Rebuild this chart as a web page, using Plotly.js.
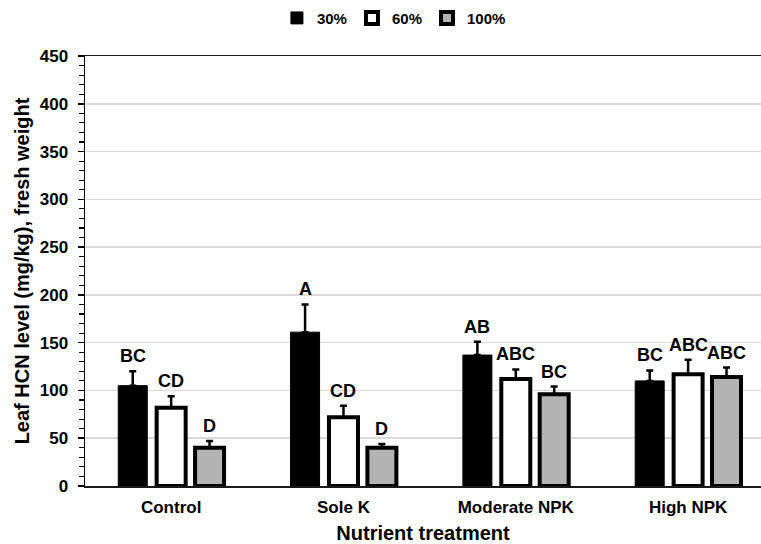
<!DOCTYPE html>
<html>
<head>
<meta charset="utf-8">
<script src="https://cdn.plot.ly/plotly-3.0.1.min.js"></script>
<style>
html,body{margin:0;padding:0;background:#fff;}
#chart{width:761px;height:544px;}
</style>
</head>
<body>
<div id="chart"></div>
<script>
// ---- data ----
const categories = ["Control", "Sole K", "Moderate NPK", "High NPK"];
const seriesNames = ["30%", "60%", "100%"];
const values30 = [105, 161, 137, 110];
const values60 = [82, 72, 112, 117];
const values100 = [40, 40, 96, 114];
const err30 = [15, 29, 14, 11];
const err60 = [12, 12, 10, 15];
const err100 = [7, 4, 8, 10];
const letters30 = ["BC", "A", "AB", "BC"];
const letters60 = ["CD", "CD", "ABC", "ABC"];
const letters100 = ["D", "D", "BC", "ABC"];
const yTicks = [0, 50, 100, 150, 200, 250, 300, 350, 400, 450];

// ---- styling ----
const FONT = '"Liberation Sans", Arial, Helvetica, sans-serif';
const fills = ["#000000", "#ffffff", "#b3b3b3"];
const lineWidths = [1, 4, 4];
const bargap = 0.3314;
const bargroupgap = 0.245;

const vals = [values30, values60, values100];
const errs = [err30, err60, err100];
const letters = [letters30, letters60, letters100];

const traces = vals.map((v, i) => ({
  type: 'bar',
  name: seriesNames[i],
  x: categories,
  y: v,
  marker: {color: fills[i], line: {color: '#000000', width: lineWidths[i]}},
  error_y: {
    type: 'data', symmetric: false, array: errs[i],
    arrayminus: errs[i].map(() => 0),
    color: '#000000', thickness: 2.5, width: 3.5
  },
  hoverinfo: 'x+y'
}));

const slot = (1 - bargap) / 3;
const annotations = [];
vals.forEach((v, i) => {
  v.forEach((val, j) => {
    annotations.push({
      x: j + (i - 1) * slot,
      y: val + errs[i][j],
      xref: 'x', yref: 'y',
      text: letters[i][j],
      showarrow: false,
      yanchor: 'bottom',
      yshift: 3,
      font: {family: FONT, size: 18, color: '#000000', weight: 'bold'}
    });
  });
});

const layout = {
  width: 761, height: 544,
  margin: {l: 85, r: 0, t: 56, b: 58},
  paper_bgcolor: '#ffffff', plot_bgcolor: '#ffffff',
  barmode: 'group',
  bargap: bargap,
  bargroupgap: bargroupgap,
  showlegend: true,
  legend: {
    orientation: 'h', x: 0.457, xanchor: 'center', y: 1.088, yanchor: 'middle',
    font: {family: FONT, size: 15, color: '#000000', weight: 'bold'},
    itemwidth: 30, traceorder: 'normal'
  },
  xaxis: {
    type: 'category',
    range: [-0.5, 3.423],
    showline: true, linecolor: '#1a1a1a', linewidth: 1.5, mirror: true,
    ticks: '', showgrid: false, zeroline: false,
    ticklabelstandoff: 5,
    tickfont: {family: FONT, size: 17, color: '#000000', weight: 'bold'},
    title: {text: 'Nutrient treatment', standoff: 15,
      font: {family: FONT, size: 20, color: '#000000', weight: 'bold'}}
  },
  yaxis: {
    range: [0, 450],
    tickvals: yTicks,
    showline: true, linecolor: '#000000', linewidth: 1.5,
    ticks: 'outside', ticklen: 6, tickwidth: 1.5, tickcolor: '#000000',
    minor: {dtick: 10, ticks: 'outside', ticklen: 5, tickwidth: 1.2, tickcolor: '#000000', showgrid: false},
    showgrid: true, gridcolor: '#d9d9d9', gridwidth: 1.5,
    zeroline: false,
    ticklabelstandoff: 6,
    tickfont: {family: FONT, size: 17, color: '#000000', weight: 'bold'},
    title: {text: 'Leaf HCN level (mg/kg), fresh weight', standoff: 4,
      font: {family: FONT, size: 20, color: '#000000', weight: 'bold'}}
  },
  annotations: annotations
};

Plotly.newPlot('chart', traces, layout, {displayModeBar: false, staticPlot: true});
</script>
</body>
</html>
